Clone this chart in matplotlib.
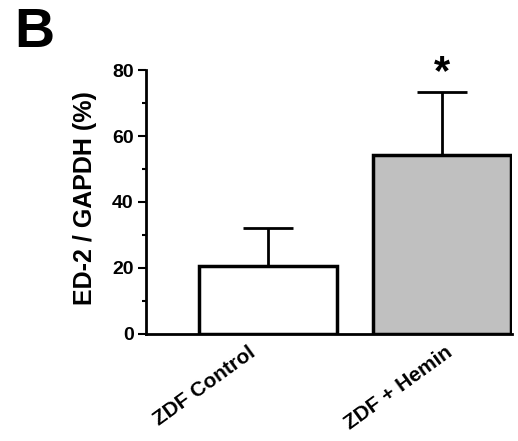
import numpy as np
import matplotlib.pyplot as plt
import matplotlib.transforms as mtransforms

plt.rcParams['font.family'] = ['Liberation Sans', 'DejaVu Sans']
plt.rcParams['font.weight'] = 'bold'

groups = ['ZDF Control', 'ZDF + Hemin']
means = [20.6, 54.2]
sem = [11.6, 19.2]
colors = ['white', '#c0c0c0']
label_dx = [-20, 3]  # pixel nudges of the slanted group labels

fig = plt.figure(figsize=(5.18, 4.41), dpi=100)
ax = fig.add_axes([0.282, 0.243, 0.706, 0.598])

x = np.arange(len(groups))
ax.bar(x, means, width=0.79, color=colors, edgecolor='black', linewidth=2.5, zorder=2)
ax.errorbar(x, means, yerr=[np.zeros(len(sem)), sem], fmt='none', ecolor='black',
            elinewidth=2, capsize=18, capthick=2, zorder=1)

ax.set_xlim(-0.70, 1.40)
ax.set_ylim(0, 80)
ax.set_yticks([0, 20, 40, 60, 80])
ax.set_yticks([10, 30, 50, 70], minor=True)
ax.set_xticks(x)
ax.set_xticklabels([])
ax.tick_params(axis='y', labelsize=14, width=1.5, length=6, pad=3)
ax.tick_params(axis='y', which='minor', width=1.5, length=3)
ax.tick_params(axis='x', length=0)
for s in ['top', 'right']:
    ax.spines[s].set_visible(False)
for s in ['left', 'bottom']:
    ax.spines[s].set_linewidth(2)

# group labels, drawn as text so they can be nudged
for xi, name, dx in zip(x, groups, label_dx):
    tr = ax.get_xaxis_transform() + mtransforms.ScaledTranslation(dx / 100, -9 / 100, fig.dpi_scale_trans)
    ax.text(xi, 0, name, transform=tr, rotation=36, ha='right', va='top',
            rotation_mode='anchor', fontsize=15, fontweight='bold')

ax.set_ylabel('ED-2 / GAPDH (%)', fontsize=18, fontweight='bold')
ax.yaxis.set_label_coords(-0.135, 0.515)

# significance marker
ax.text(x[1], means[1] + sem[1] - 0.5, '*', ha='center', va='bottom', fontsize=30, fontweight='bold')

fig.text(0.028, 0.985, 'B', fontsize=40, fontweight='bold', va='top', ha='left')

fig.savefig('out.png', dpi=100)
